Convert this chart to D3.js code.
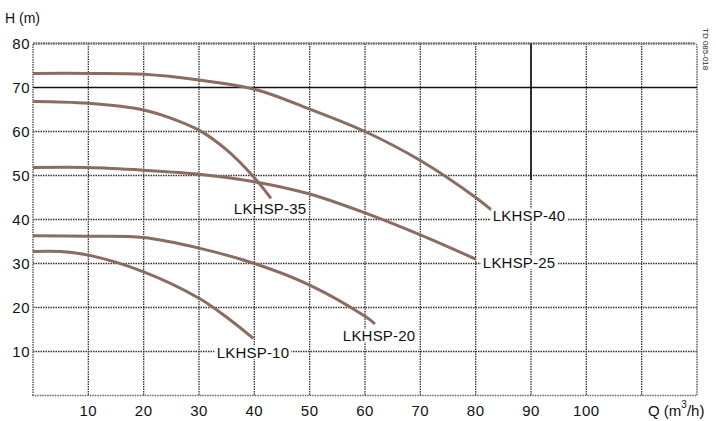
<!DOCTYPE html>
<html><head><meta charset="utf-8">
<script src="https://cdn.jsdelivr.net/npm/d3@7"></script>
<style>
html,body{margin:0;padding:0;background:#fff;}
svg{display:block;font-family:"Liberation Sans",Arial,sans-serif;}
</style></head>
<body><svg id="c" width="716" height="421"></svg>
<script>
// ---- data ----
const xTicks = [10,20,30,40,50,60,70,80,90,100];
const yTicks = [10,20,30,40,50,60,70,80];
const seriesNames = ["LKHSP-40","LKHSP-35","LKHSP-25","LKHSP-20","LKHSP-10"];
const q40 = [0,10,20,30,40,50,60,70,80,83];
const h40 = [73.2,73.2,73.0,71.7,69.6,65.1,60.0,53.4,45.0,42.0];
const q35 = [0,10,20,25,30,35,40,43];
const h35 = [66.8,66.4,64.9,63.0,60.3,55.8,49.5,44.8];
const q25 = [0,10,20,30,40,50,60,70,80];
const h25 = [51.8,51.8,51.2,50.3,48.6,45.8,41.5,36.5,31.0];
const q20 = [0,10,20,30,40,50,60,61.8];
const h20 = [36.3,36.2,35.9,33.5,30.0,25.1,18.0,16.3];
const q10 = [0,5,10,20,30,35,39.8];
const h10 = [32.7,32.7,31.9,28.1,22.1,17.8,13.0];
const labelQ = [83.1,36.3,81.3,56.0,33.2];
const labelH = [41.0,42.4,30.2,13.6,9.7];

const svg = d3.select("#c");
const x = d3.scaleLinear().domain([0,120]).range([33,697]);
const y = d3.scaleLinear().domain([0,80]).range([395.5,43.5]);

const gridColor = "#333";
// grid
const g = svg.append("g");
g.selectAll(".vg").data(d3.range(10,120,10)).join("line")
  .attr("x1",d=>x(d)).attr("x2",d=>x(d)).attr("y1",y(80)).attr("y2",y(0))
  .attr("stroke",gridColor).attr("stroke-width",1.3).attr("stroke-dasharray","1.5,1");
g.selectAll(".hg").data(d3.range(10,80,10).filter(d=>d!==70)).join("line")
  .attr("x1",x(0)).attr("x2",x(120)).attr("y1",d=>y(d)).attr("y2",d=>y(d))
  .attr("stroke",gridColor).attr("stroke-width",1.3).attr("stroke-dasharray","1.5,1");
// border
g.append("path")
  .attr("d",`M${x(0)},${y(0)}L${x(0)},${y(80)}L${x(120)-3},${y(80)}Q${x(120)},${y(80)} ${x(120)},${y(80)+3}L${x(120)},${y(0)}Z`)
  .attr("fill","none").attr("stroke","#666").attr("stroke-width",1.6).attr("stroke-dasharray","1.5,1");
g.append("line").attr("x1",x(0)).attr("x2",x(120)-3).attr("y1",y(80)).attr("y2",y(80))
  .attr("stroke","#777").attr("stroke-width",2.6).attr("stroke-dasharray","1.5,1");
// solid reference lines
g.append("line").attr("x1",x(0)).attr("x2",x(120)).attr("y1",y(70)).attr("y2",y(70))
  .attr("stroke","#111").attr("stroke-width",1.6);
g.append("line").attr("x1",x(90)).attr("x2",x(90)).attr("y1",y(80)).attr("y2",y(49))
  .attr("stroke","#111").attr("stroke-width",1.6);

// curves
const series = [[q40,h40],[q35,h35],[q25,h25],[q20,h20],[q10,h10]];
const line = d3.line().x(d=>x(d[0])).y(d=>y(d[1])).curve(d3.curveCatmullRom.alpha(0.5));
const cg = svg.append("g");
series.forEach(([qs,hs])=>{
  const pts = qs.map((q,i)=>[q,hs[i]]);
  cg.append("path").attr("d",line(pts)).attr("fill","none")
    .attr("stroke","#8a6d60").attr("stroke-width",3).attr("stroke-linecap","butt");
});

// labels with white background
const lg = svg.append("g");
seriesNames.forEach((n,i)=>{
  const t = lg.append("text").attr("x",x(labelQ[i])).attr("y",y(labelH[i]))
    .attr("dominant-baseline","central").attr("font-size",15).attr("fill","#111")
    .attr("letter-spacing",0.2).text(n);
  const b = t.node().getBBox();
  lg.insert("rect","text").attr("x",b.x-2).attr("y",b.y+2).attr("width",b.width+4).attr("height",b.height-4).attr("fill","#fff");
});

// tick labels
svg.selectAll(".yt").data(yTicks).join("text")
  .attr("x",30).attr("y",d=>y(d)).attr("text-anchor","end").attr("dominant-baseline","central")
  .attr("font-size",15).attr("letter-spacing",0.5).attr("fill","#111").text(d=>d);
svg.selectAll(".xt").data(xTicks).join("text")
  .attr("x",d=>x(d)).attr("y",410).attr("text-anchor","middle").attr("dominant-baseline","central")
  .attr("font-size",15).attr("letter-spacing",0.5).attr("fill","#111").text(d=>d);

svg.append("text").attr("x",5).attr("y",18).attr("dominant-baseline","central")
  .attr("font-size",14).attr("fill","#111").text("H (m)");
const qt = svg.append("text").attr("x",648).attr("y",410).attr("dominant-baseline","central")
  .attr("font-size",15).attr("fill","#111");
qt.append("tspan").text("Q (m");
qt.append("tspan").attr("font-size",10).attr("dy",-6).text("3");
qt.append("tspan").attr("dy",6).text("/h)");

svg.append("text").attr("transform","translate(703,28) rotate(90)")
  .attr("font-size",8).attr("fill","#222").text("TD 085-018");
</script></body></html>
